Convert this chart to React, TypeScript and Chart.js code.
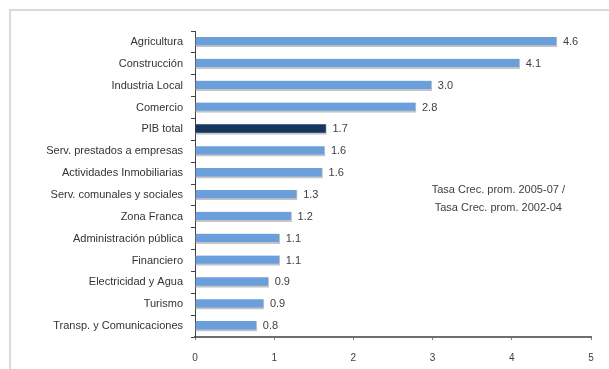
import React, { useEffect, useRef } from "react";
import { Chart, registerables } from "chart.js";

Chart.register(...registerables);

const categories = [
  "Agricultura",
  "Construcción",
  "Industria Local",
  "Comercio",
  "PIB total",
  "Serv. prestados a empresas",
  "Actividades Inmobiliarias",
  "Serv. comunales y sociales",
  "Zona Franca",
  "Administración pública",
  "Financiero",
  "Electricidad y Agua",
  "Turismo",
  "Transp. y Comunicaciones",
];

const values = [4.57, 4.1, 2.99, 2.79, 1.66, 1.64, 1.61, 1.29, 1.22, 1.07, 1.07, 0.93, 0.87, 0.78];
const valueLabels = ["4.6", "4.1", "3.0", "2.8", "1.7", "1.6", "1.6", "1.3", "1.2", "1.1", "1.1", "0.9", "0.9", "0.8"];
const highlight = "PIB total";
const xTicks = [0, 1, 2, 3, 4, 5];
const noteLines = ["Tasa Crec. prom. 2005-07 /", "Tasa Crec. prom. 2002-04"];

const FONT = "'Liberation Sans', Arial, sans-serif";

const decorPlugin = {
  id: "decor",
  beforeDraw(chart: any) {
    const ctx = chart.ctx;
    ctx.save();
    ctx.fillStyle = "#ffffff";
    ctx.fillRect(0, 0, chart.width, chart.height);
    ctx.strokeStyle = "#d9d9d9";
    ctx.lineWidth = 2;
    ctx.beginPath();
    ctx.moveTo(10, chart.height);
    ctx.lineTo(10, 10);
    ctx.lineTo(chart.width, 10);
    ctx.stroke();
    ctx.restore();
  },
  afterDatasetsDraw(chart: any) {
    const ctx = chart.ctx;
    const meta = chart.getDatasetMeta(0);
    ctx.save();
    ctx.font = `11px ${FONT}`;
    ctx.fillStyle = "#404040";
    ctx.textAlign = "left";
    ctx.textBaseline = "middle";
    meta.data.forEach((bar: any, i: number) => {
      ctx.fillText(valueLabels[i], bar.x + 6, bar.y);
    });
    const xs = chart.scales.x;
    const ys = chart.scales.y;
    const cx = xs.getPixelForValue(3.83);
    const y0 = ys.getPixelForValue(7) - 5;
    ctx.textAlign = "center";
    noteLines.forEach((t, i) => ctx.fillText(t, cx, y0 + i * 18));
    ctx.restore();
  },
};

export default function App() {
  const ref = useRef<HTMLCanvasElement>(null);
  useEffect(() => {
    if (!ref.current) return;
    const chart = new Chart(ref.current, {
      type: "bar",
      data: {
        labels: categories,
        datasets: [
          {
            data: values,
            backgroundColor: categories.map((c) => (c === highlight ? "#17365d" : "#6a9fdb")),
            borderColor: "#c4c4c4",
            borderWidth: { top: 0, left: 0, right: 1, bottom: 2 },
            borderSkipped: false,
            barThickness: 10,
          },
        ],
      },
      options: {
        indexAxis: "y",
        animation: false,
        responsive: false,
        maintainAspectRatio: false,
        layout: { padding: { left: 0, top: 31, right: 18, bottom: 0 } },
        plugins: { legend: { display: false }, tooltip: { enabled: false } },
        scales: {
          x: {
            min: 0,
            max: 5,
            afterBuildTicks(scale: any) {
              scale.ticks = xTicks.map((v) => ({ value: v }));
            },
            afterFit(scale: any) {
              scale.height = 32;
            },
            grid: { drawOnChartArea: false, tickLength: 3, color: "#808080" },
            border: { color: "#6e6e6e", width: 2 },
            ticks: { font: { size: 10, family: FONT }, color: "#404040", padding: 12 },
          },
          y: {
            afterFit(scale: any) {
              scale.width = 195;
            },
            grid: { drawOnChartArea: false, offset: true, tickLength: 4, color: "#404040" },
            border: { color: "#404040", width: 1 },
            ticks: { font: { size: 11, family: FONT }, color: "#333333", padding: 8 },
          },
        },
      },
      plugins: [decorPlugin],
    });
    return () => chart.destroy();
  }, []);
  return (
    <div style={{ position: "fixed", left: 0, top: 0, width: 609, height: 369 }}>
      <canvas ref={ref} width={609} height={369} style={{ width: 609, height: 369 }} />
    </div>
  );
}
